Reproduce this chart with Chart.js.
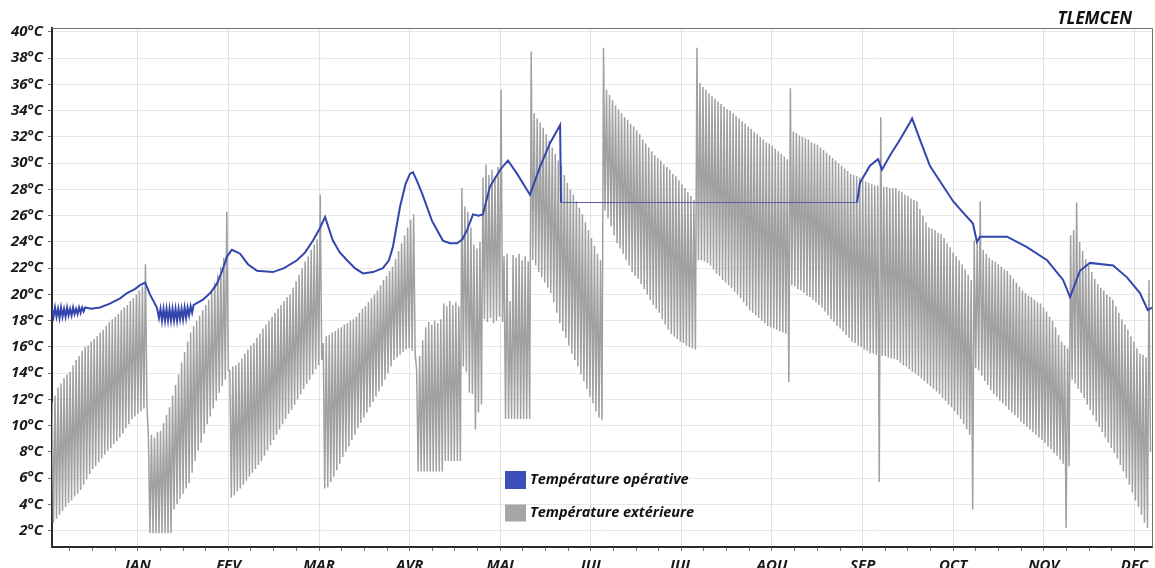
<!DOCTYPE html>
<html>
<head>
<meta charset="utf-8">
<title>TLEMCEN</title>
<script src="https://cdn.jsdelivr.net/npm/chart.js@4.4.1/dist/chart.umd.min.js"></script>
<style>
  html, body { margin: 0; padding: 0; background: #ffffff; }
  canvas { display: block; }
</style>
</head>
<body>
<canvas id="tempChart" width="1155" height="568"></canvas>
<script>
// axes
const monthLabels = ["JAN", "FEV", "MAR", "AVR", "MAI", "JUI", "JUL", "AOU", "SEP", "OCT", "NOV", "DEC"];
const monthTicks = [28.5, 58.6, 88.6, 118.7, 148.7, 178.8, 208.9, 238.9, 269.0, 299.0, 329.1, 359.2]; // jour de l'annee
const yTickValues = [2, 4, 6, 8, 10, 12, 14, 16, 18, 20, 22, 24, 26, 28, 30, 32, 34, 36, 38, 40];

// temperature exterieure : max et min de chaque jour (jour 0 a 364)
const extMax = [
  11.8, 12.3, 12.9, 13.2, 13.6, 13.9, 14.1, 14.6, 15.0, 15.3, 15.7, 16.0, 16.1, 16.4, 16.6, 16.8, 17.1, 17.3, 17.6, 17.9, 18.1, 18.3, 18.5, 18.8, 19.0, 19.2, 19.5, 19.7, 20.0, 20.3, 20.6, 22.3,
  9.0, 9.3, 9.1, 9.5, 9.6, 10.2, 10.8, 11.4, 12.3, 13.1, 13.9, 14.8, 15.6, 16.4, 17.1, 17.6, 18.0, 18.4, 18.8, 19.2, 19.6, 20.2, 20.9, 21.5, 22.1, 22.8, 26.3,
  14.2, 14.5, 14.6, 14.8, 15.1, 15.5, 15.8, 16.1, 16.3, 16.7, 17.0, 17.4, 17.7, 18.0, 18.3, 18.6, 18.9, 19.2, 19.5, 19.8, 20.0, 20.5, 21.0, 21.5, 22.0, 22.5, 22.9, 23.4, 23.8, 24.2, 27.6,
  16.3, 16.8, 16.9, 17.1, 17.2, 17.4, 17.5, 17.7, 17.8, 18.0, 18.1, 18.3, 18.6, 18.9, 19.1, 19.4, 19.7, 20.0, 20.3, 20.7, 21.1, 21.4, 21.8, 22.1, 22.7, 23.3, 23.9, 24.5, 25.1, 25.7, 26.1,
  14.2, 15.3, 16.5, 17.5, 17.9, 17.7, 18.0, 17.8, 18.1, 19.3, 19.1, 19.5, 19.2, 19.4, 19.1,
  28.1, 26.7, 26.3, 25.1, 23.8, 23.5, 24.0, 28.9, 29.9, 29.1, 29.5, 29.0, 29.7, 35.6, 22.9, 23.1, 19.5, 23.0, 22.8, 23.1, 22.6, 22.9, 22.5,
  38.5, 33.8, 33.4, 33.1, 32.7, 32.2, 31.7, 31.2, 30.7, 30.2, 29.8, 29.1, 28.5, 28.0, 27.6, 27.1, 26.6, 26.1, 25.5, 24.9, 24.3, 23.7, 23.1, 22.6,
  38.8, 35.6, 35.2, 34.8, 34.4, 34.1, 33.8, 33.5, 33.3, 33.0, 32.8, 32.5, 32.2, 31.8, 31.5, 31.2, 30.9, 30.6, 30.4, 30.2, 29.9, 29.7, 29.5, 29.2, 29.0, 28.7, 28.4, 28.1, 27.8, 27.5, 27.2,
  38.8, 36.1, 35.8, 35.6, 35.3, 35.1, 34.9, 34.7, 34.5, 34.3, 34.1, 34.0, 33.8, 33.6, 33.4, 33.2, 33.0, 32.8, 32.6, 32.4, 32.2, 32.0, 31.8, 31.6, 31.5, 31.3, 31.1, 30.9, 30.7, 30.5, 30.3,
  35.7, 32.4, 32.3, 32.1, 32.0, 31.9, 31.8, 31.6, 31.5, 31.4, 31.2, 31.0, 30.8, 30.6, 30.4, 30.2, 30.0, 29.8, 29.6, 29.4, 29.2, 29.1, 29.0, 28.9, 28.7, 28.6, 28.5, 28.4, 28.3, 28.3,
  33.5, 28.2, 28.2, 28.1, 28.1, 28.1, 27.9, 27.8, 27.6, 27.5, 27.3, 27.2, 27.1, 26.5, 26.0, 25.5, 25.1, 25.0, 24.9, 24.7, 24.6, 24.3, 23.9, 23.6, 23.2, 22.9, 22.6, 22.3, 21.9, 21.5, 21.1,
  24.1, 23.9, 27.1, 23.4, 23.1, 22.8, 22.6, 22.5, 22.3, 22.1, 21.9, 21.8, 21.5, 21.2, 20.9, 20.6, 20.3, 20.1, 19.9, 19.8, 19.6, 19.4, 19.3, 19.0, 18.7, 18.3, 18.0, 17.5, 16.9, 16.4, 16.1, 15.9,
  24.5, 24.9, 27.0, 24.0, 23.3, 22.7, 22.2, 21.7, 21.2, 20.8, 20.5, 20.3, 20.0, 19.8, 19.6, 19.1, 18.6, 18.1, 17.7, 17.3, 16.8, 16.4, 15.9, 15.5, 15.4, 15.2, 21.1
];
const extMin = [
  2.6, 2.9, 3.2, 3.5, 3.8, 4.1, 4.3, 4.6, 4.8, 5.1, 5.5, 5.9, 6.3, 6.7, 6.9, 7.2, 7.5, 7.8, 8.1, 8.3, 8.6, 8.8, 9.1, 9.4, 9.8, 10.1, 10.5, 10.7, 10.9, 11.1, 11.3, 11.6,
  1.8, 1.8, 1.8, 1.8, 1.8, 1.8, 1.8, 1.8, 3.6, 4.0, 4.4, 4.8, 5.2, 5.6, 6.4, 7.3, 8.1, 8.7, 9.4, 10.1, 10.7, 11.3, 11.9, 12.5, 13.0, 13.5, 14.2,
  4.5, 4.7, 5.0, 5.2, 5.5, 5.8, 6.1, 6.4, 6.7, 7.0, 7.3, 7.7, 8.1, 8.5, 8.9, 9.3, 9.7, 10.1, 10.5, 10.9, 11.2, 11.6, 12.0, 12.4, 12.8, 13.2, 13.5, 13.9, 14.3, 14.6, 15.0,
  5.2, 5.3, 5.7, 6.1, 6.6, 7.1, 7.6, 8.0, 8.4, 8.9, 9.3, 9.8, 10.2, 10.6, 11.0, 11.4, 11.8, 12.2, 12.6, 13.0, 13.5, 14.0, 14.5, 15.0, 15.2, 15.4, 15.6, 15.8, 15.9, 15.7, 15.5,
  6.5, 6.5, 6.5, 6.5, 6.5, 6.5, 6.5, 6.5, 6.5, 7.3, 7.3, 7.3, 7.3, 7.3, 7.3,
  14.5, 14.1, 12.5, 12.4, 9.7, 11.0, 11.6, 18.1, 17.9, 18.2, 17.8, 18.0, 18.3, 17.9, 10.5, 10.5, 10.5, 10.5, 10.5, 10.5, 10.5, 10.5, 10.5,
  22.6, 22.2, 21.7, 21.3, 20.9, 20.5, 20.1, 19.4, 18.6, 17.8, 17.2, 16.7, 16.1, 15.5, 15.0, 14.5, 13.9, 13.4, 12.8, 12.2, 11.7, 11.1, 10.6, 10.4,
  26.4, 25.8, 25.2, 24.5, 23.9, 23.5, 23.1, 22.6, 22.2, 21.7, 21.4, 21.2, 20.8, 20.4, 20.0, 19.6, 19.2, 18.9, 18.6, 18.1, 17.7, 17.3, 17.0, 16.8, 16.6, 16.4, 16.3, 16.1, 16.0, 15.9, 15.8,
  22.6, 22.6, 22.5, 22.4, 22.2, 21.9, 21.6, 21.4, 21.1, 20.9, 20.7, 20.5, 20.2, 20.0, 19.7, 19.4, 19.1, 18.8, 18.6, 18.4, 18.2, 18.0, 17.8, 17.6, 17.5, 17.4, 17.3, 17.2, 17.1, 17.0, 13.3,
  20.7, 20.6, 20.4, 20.3, 20.1, 19.9, 19.8, 19.6, 19.4, 19.2, 19.0, 18.7, 18.4, 18.1, 17.9, 17.6, 17.4, 17.2, 16.9, 16.7, 16.4, 16.3, 16.1, 16.0, 15.8, 15.7, 15.5, 15.5, 15.4, 5.7,
  15.3, 15.3, 15.2, 15.1, 15.1, 15.0, 14.8, 14.6, 14.5, 14.3, 14.1, 14.0, 13.8, 13.6, 13.4, 13.2, 13.0, 12.8, 12.6, 12.4, 12.1, 11.9, 11.6, 11.4, 11.1, 10.8, 10.5, 10.1, 9.7, 9.3, 3.6,
  14.4, 14.2, 13.8, 13.4, 13.1, 12.7, 12.4, 12.2, 11.9, 11.7, 11.5, 11.2, 11.0, 10.8, 10.6, 10.3, 10.1, 9.9, 9.7, 9.5, 9.3, 9.1, 8.9, 8.7, 8.4, 8.2, 7.9, 7.7, 7.4, 7.1, 2.2, 6.9,
  13.5, 13.2, 12.8, 12.5, 12.1, 11.6, 11.2, 10.8, 10.3, 9.9, 9.5, 9.1, 8.7, 8.3, 7.9, 7.5, 7.0, 6.5, 6.0, 5.5, 4.9, 4.3, 3.8, 3.2, 2.6, 2.2, 8.0
];

// temperature operative (jour, valeur)
const opDays = [
  0, 0.5, 1, 1.5, 2, 2.5, 3, 3.5, 4, 4.5, 5, 5.5, 6, 6.5, 7, 7.5, 8, 8.5, 9, 9.5, 10, 10.5, 11,
  13, 15.9, 19.2, 22.6, 24.9, 27.5, 29.2, 30.9, 32.5, 34.8,
  35.5, 36, 36.5, 37, 37.5, 38, 38.5, 39, 39.5, 40, 40.5, 41, 41.5, 42, 42.5, 43, 43.5, 44, 44.5, 45, 45.5, 46, 46.5, 47,
  50.1, 52.5, 54.7, 56.5, 58.1, 59.7, 62.4, 65, 68, 73.3, 77, 81.3, 84, 86.6, 88.8, 90.6, 93.2, 95.5, 97.9, 100.5, 103.2,
  106.5, 109.8, 111.8, 113.1, 115.5, 117.3, 118.8, 119.8, 121.2, 122.8, 126.1, 129.7, 132, 134.4, 136.2, 137.7, 139.7,
  141.5, 143, 145.3, 148.7, 151.3, 154.3, 158.6, 161.9, 165.2, 168.6, 168.9, 267.1, 268.1, 271.4, 274.1, 275.4, 278.1,
  281.4, 284.7, 285.4, 288, 291.3, 294.7, 299, 301.3, 305.6, 306.9, 307.9, 314.6, 316.9, 323.5, 330.2, 335.5, 337.8,
  341.1, 344.4, 352.1, 356.7, 361, 363.6, 365
];
const opTemps = [
  18.9, 18.3, 19.0, 18.3, 18.9, 18.2, 19.0, 18.3, 18.9, 18.3, 19.0, 18.4, 18.9, 18.4, 19.0, 18.5, 18.9, 18.5, 19.0, 18.6, 19.0, 18.7, 19.0,
  18.9, 19.0, 19.3, 19.7, 20.1, 20.4, 20.7, 20.9, 20.0, 19.0,
  18.2, 18.9, 18.0, 18.9, 18.0, 18.9, 18.0, 18.9, 18.0, 18.9, 18.0, 18.9, 18.0, 18.9, 18.1, 18.9, 18.1, 19.0, 18.2, 19.0, 18.4, 19.1, 18.6, 19.2,
  19.6, 20.1, 20.8, 21.8, 22.9, 23.4, 23.1, 22.3, 21.8, 21.7, 22.0, 22.6, 23.2, 24.1, 25.0, 25.9, 24.1, 23.2, 22.6, 22.0, 21.6,
  21.7, 22.0, 22.6, 23.6, 26.7, 28.4, 29.2, 29.3, 28.6, 27.7, 25.6, 24.1, 23.9, 23.9, 24.2, 24.9, 26.1,
  26.0, 26.1, 28.2, 29.5, 30.2, 29.2, 27.6, 29.7, 31.5, 32.9, 27.0, 27.0, 28.5, 29.8, 30.3, 29.5, 30.6,
  31.8, 33.1, 33.4, 31.8, 29.8, 28.6, 27.1, 26.5, 25.4, 24.0, 24.4, 24.4, 24.4, 23.6, 22.6, 21.1, 19.8,
  21.8, 22.4, 22.2, 21.3, 20.1, 18.8, 19.0
];

const FONT = "'Open Sans', 'DejaVu Sans', sans-serif";

const extPoints = [];
extMax.forEach((v, d) => {
  extPoints.push({ x: d, y: v });
  extPoints.push({ x: d + 0.5, y: extMin[d] });
});
const opPoints = opDays.map((d, i) => ({ x: d, y: opTemps[i] }));

// petites graduations entre les mois
const quarter = (monthTicks[1] - monthTicks[0]) / 4;
const xTicks = [];
monthTicks.forEach((t) => {
  for (let k = 3; k >= 1; k--) xTicks.push(t - k * quarter);
  xTicks.push(t);
});
const isMonth = (v) => monthTicks.indexOf(v) >= 0;

const framePlugin = {
  id: "frame",
  afterDatasetsDraw(chart) {
    const { ctx, chartArea } = chart;
    ctx.save();
    ctx.strokeStyle = "#6e6e6e";
    ctx.lineWidth = 1;
    ctx.beginPath();
    ctx.moveTo(chartArea.left, chartArea.top + 0.5);
    ctx.lineTo(chartArea.right + 0.5, chartArea.top + 0.5);
    ctx.lineTo(chartArea.right + 0.5, chartArea.bottom);
    ctx.stroke();
    ctx.restore();
  },
  afterDraw(chart) {
    const ctx = chart.ctx;
    ctx.save();
    // titre
    ctx.fillStyle = "#111111";
    ctx.font = "italic bold 17px " + FONT;
    ctx.textAlign = "right";
    ctx.textBaseline = "alphabetic";
    ctx.fillText("TLEMCEN", 1132, 24);
    // legende
    const rows = [
      { ds: chart.data.datasets[0], y: 480, h: 18 },
      { ds: chart.data.datasets[1], y: 513, h: 17 },
    ];
    ctx.textAlign = "left";
    ctx.textBaseline = "middle";
    ctx.font = "italic bold 14.5px " + FONT;
    rows.forEach((r) => {
      ctx.fillStyle = r.ds.backgroundColor;
      ctx.fillRect(505, r.y - r.h / 2, 21, r.h);
      ctx.fillStyle = "#111111";
      ctx.fillText(r.ds.label, 530, r.y);
    });
    ctx.restore();
  },
};

// palier horizontal de la temperature operative : trait plus fin
const flatPart = (c) => (c.p0.parsed.y === c.p1.parsed.y && c.p1.parsed.x - c.p0.parsed.x > 10 ? 1 : undefined);

new Chart(document.getElementById("tempChart"), {
  type: "line",
  data: {
    datasets: [
      {
        label: "Température opérative",
        data: opPoints,
        borderColor: "#3346ad",
        backgroundColor: "#3a50b8",
        borderWidth: 2,
        pointRadius: 0,
        tension: 0,
        segment: {
          borderWidth: flatPart,
          borderColor: (c) => (flatPart(c) ? "#55609e" : undefined),
        },
        order: 0,
      },
      {
        label: "Température extérieure",
        data: extPoints,
        borderColor: "#a0a0a0",
        backgroundColor: "#a6a6a6",
        borderWidth: 1.5,
        pointRadius: 0,
        tension: 0,
        order: 1,
      },
    ],
  },
  options: {
    responsive: false,
    animation: false,
    devicePixelRatio: 1,
    layout: { padding: { top: 28, right: 3, left: 0, bottom: 0 } },
    plugins: {
      legend: { display: false },
      tooltip: { enabled: false },
    },
    scales: {
      x: {
        type: "linear",
        min: 0,
        max: 365,
        afterBuildTicks: (scale) => {
          scale.ticks = xTicks.map((v) => ({ value: v }));
        },
        afterFit: (scale) => {
          scale.height = 21;
        },
        grid: {
          color: (c) => (c.tick && isMonth(c.tick.value) ? "#e3e3e3" : "rgba(0,0,0,0)"),
          tickColor: "#777777",
          tickLength: 4,
        },
        border: { color: "#2b2b2b", width: 2 },
        ticks: {
          autoSkip: false,
          maxRotation: 0,
          padding: 6,
          color: "#1a1a1a",
          font: { family: FONT, size: 15, style: "italic", weight: "bold" },
          callback: (v) => {
            const i = monthTicks.indexOf(v);
            return i >= 0 ? monthLabels[i] : "";
          },
        },
      },
      y: {
        min: 0.75,
        max: 40.3,
        afterBuildTicks: (scale) => {
          scale.ticks = yTickValues.map((v) => ({ value: v }));
        },
        afterFit: (scale) => {
          scale.width = 52;
        },
        grid: {
          color: "#e8e8e8",
          tickColor: "#777777",
          tickLength: 4,
        },
        border: { color: "#2b2b2b", width: 2 },
        ticks: {
          padding: 5,
          color: "#1a1a1a",
          font: { family: FONT, size: 15, style: "italic", weight: "bold" },
          callback: (v) => v + "°C",
        },
      },
    },
  },
  plugins: [framePlugin],
});
</script>
</body>
</html>
